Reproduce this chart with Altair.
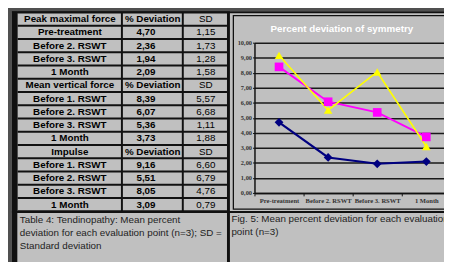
import altair as alt
import pandas as pd

# ---------------- data ----------------
categories = ["Pre-treatment", "Before 2. RSWT", "Before 3. RSWT", "1 Month"]
later_labels = ["Before 1. RSWT", "Before 2. RSWT", "Before 3. RSWT", "1 Month"]
section_names = ["Peak maximal force", "Mean vertical force", "Impulse"]
peak_dev = [4.70, 2.36, 1.94, 2.09]
peak_sd = [1.15, 1.73, 1.28, 1.58]
mvf_dev = [8.39, 6.07, 5.36, 3.73]
mvf_sd = [5.57, 6.68, 1.11, 1.88]
imp_dev = [9.16, 5.51, 8.05, 3.09]
imp_sd = [6.60, 6.79, 4.76, 0.79]
y_ticks = [0, 1, 2, 3, 4, 5, 6, 7, 8, 9, 10]
chart_title = "Percent deviation of symmetry"
table_caption = ["Table 4:  Tendinopathy: Mean percent",
                 "deviation for each evaluation point (n=3); SD =",
                 "Standard deviation"]
figure_caption = ["Fig. 5: Mean percent deviation for each evaluation",
                  "point (n=3)"]

series_colors = ["#000080", "#ff00ff", "#ffff00"]
series_shapes = ["diamond", "square", "triangle-up"]


def fmt(v):
    return f"{v:.2f}".replace(".", ",")


sections = [
    (section_names[0], categories, peak_dev, peak_sd),
    (section_names[1], later_labels, mvf_dev, mvf_sd),
    (section_names[2], later_labels, imp_dev, imp_sd),
]
rows = []
for name, labels, devs, sds in sections:
    rows.append({"c1": name, "c2": "% Deviation", "c3": "SD", "header": True})
    for lab, d, s in zip(labels, devs, sds):
        rows.append({"c1": lab, "c2": fmt(d), "c3": fmt(s), "header": False})
for i, r in enumerate(rows):
    r["row"] = i
table_df = pd.DataFrame(rows)

chart_rows = []
for name, _, devs, _ in sections:
    for c, v in zip(categories, devs):
        chart_rows.append({"series": name, "cat": c, "value": v})
chart_df = pd.DataFrame(chart_rows)

one = pd.DataFrame({"k": [0]})

# view origin is page (259, 41)
OX, OY = 259, 41


def px(x):
    return x - OX


def py(y):
    return y - OY


def box(x1, x2, y1, y2, color):
    return alt.Chart(one).mark_rect(color=color).encode(
        x=alt.value(px(x1)), x2=alt.value(px(x2)),
        y=alt.value(py(y1)), y2=alt.value(py(y2)))


decor = [
    box(0, 460, 0, 9, "#505050"),
    box(0, 12, 0, 270, "#505050"),
    box(12, 460, 9, 11, "#111111"),
    box(12, 17.5, 9, 270, "#111111"),
    box(17.5, 231, 9, 214.5, "#111111"),
    box(231, 234, 9, 270, "#111111"),
    box(12, 460, 212.5, 214.5, "#111111"),
]

row_scale = alt.Scale(type="band", range=[py(10.25), py(212.75)],
                      paddingInner=0.148, paddingOuter=0.074)
ry = alt.Y("row:O", scale=row_scale, axis=None)

cells = alt.Chart(table_df).mark_rect(color="#c0c0c0").encode(
    y=ry, x=alt.value(px(18)), x2=alt.value(px(231)))
seps = alt.Chart(one).mark_rect(color="#111111").encode(
    x=alt.value(px(123)), x2=alt.value(px(125)),
    y=alt.value(py(10.25)), y2=alt.value(py(212.75)))
seps2 = alt.Chart(one).mark_rect(color="#111111").encode(
    x=alt.value(px(185)), x2=alt.value(px(187)),
    y=alt.value(py(10.25)), y2=alt.value(py(212.75)))

tkw = dict(font="Liberation Sans", fontSize=10, color="#000000", baseline="middle", align="center")
col1 = alt.Chart(table_df).mark_text(fontWeight="bold", **tkw).encode(
    y=ry, x=alt.value(px(71)), text="c1:N")
col2h = alt.Chart(table_df).transform_filter("datum.header").mark_text(fontWeight="bold", **tkw).encode(
    y=ry, x=alt.value(px(155.3)), text="c2:N")
col2v = alt.Chart(table_df).transform_filter("!datum.header").mark_text(fontWeight="bold", **tkw).encode(
    y=ry, x=alt.value(px(148.5)), text="c2:N")
col3 = alt.Chart(table_df).mark_text(fontWeight="normal", **tkw).encode(
    y=ry, x=alt.value(px(209.5)), text="c3:N")

table_layer = alt.layer(cells, seps, seps2, col1, col2h, col2v, col3)

frame = alt.Chart(one).mark_rect(fillOpacity=0, stroke="#111111", strokeWidth=1.3).encode(
    x=alt.value(px(237.5)), x2=alt.value(px(480)),
    y=alt.value(py(13.5)), y2=alt.value(py(210.5)))

title = alt.Chart(one).mark_text(
    text=chart_title, font="Liberation Sans", fontSize=10, fontWeight="bold",
    color="white", align="center", baseline="middle").encode(
    x=alt.value(px(348)), y=alt.value(py(27)))

cap_l = alt.Chart(pd.DataFrame({"t": ["\n".join(table_caption)]})).mark_text(
    font="Liberation Sans", fontSize=10, color="#1e1e1e", align="left",
    baseline="alphabetic", lineBreak="\n", lineHeight=13.3).encode(
    x=alt.value(px(20)), y=alt.value(py(224.3)), text="t:N")
cap_r = alt.Chart(pd.DataFrame({"t": ["\n".join(figure_caption)]})).mark_text(
    font="Liberation Sans", fontSize=10, color="#1e1e1e", align="left",
    baseline="alphabetic", lineBreak="\n", lineHeight=13).encode(
    x=alt.value(px(235.5)), y=alt.value(py(223.6)), text="t:N")

xenc = alt.X("cat:N", sort=categories,
             scale=alt.Scale(range=[0, 200], paddingInner=0, paddingOuter=0),
             axis=alt.Axis(title=None, labelAngle=0, labelFont="Liberation Serif",
                           labelFontSize=6.7, labelFontWeight="bold", labelColor="#333333",
                           tickBand="extent", tickSize=3, tickColor="#111111",
                           domainColor="#111111", domainWidth=1.5, labelPadding=2,
                           labelOverlap=False, grid=False))
yenc = alt.Y("value:Q", scale=alt.Scale(domain=[0, 10], nice=False),
             axis=alt.Axis(title=None, values=y_ticks,
                           labelExpr="replace(format(datum.value, '.2f'), '.', ',')",
                           labelFont="Liberation Serif", labelFontSize=6.5,
                           labelFontWeight="bold", labelColor="#333333",
                           grid=True, gridColor="#1a1a1a", gridWidth=1.5,
                           tickSize=2, tickColor="#111111", domainColor="#111111",
                           domainWidth=1.5, labelPadding=1))
cenc = alt.Color("series:N", scale=alt.Scale(domain=section_names, range=series_colors), legend=None)

lines = alt.Chart(chart_df).mark_line().encode(
    x=xenc, y=yenc, color=cenc,
    strokeWidth=alt.StrokeWidth("series:N", scale=alt.Scale(domain=section_names, range=[2.2, 1.6, 1.6]), legend=None))
points = alt.Chart(chart_df).mark_point(filled=True, opacity=1).encode(
    x=xenc, y=yenc, color=cenc,
    shape=alt.Shape("series:N", scale=alt.Scale(domain=section_names, range=series_shapes), legend=None),
    size=alt.Size("series:N", scale=alt.Scale(domain=section_names, range=[80, 75, 85]), legend=None))

chart_layer = alt.layer(lines, points)

chart = alt.layer(*decor, table_layer, frame, title, cap_l, cap_r, chart_layer).resolve_scale(
    x="independent", y="independent").properties(
    width=193, height=153,
    padding={"left": 251, "top": 33, "right": 0, "bottom": 68},
    autosize=alt.AutoSizeParams(type="none"),
).configure(background="#c0c0c0").configure_view(strokeWidth=0)

chart.save("out.html", embed_options={"renderer": "svg", "actions": False})
